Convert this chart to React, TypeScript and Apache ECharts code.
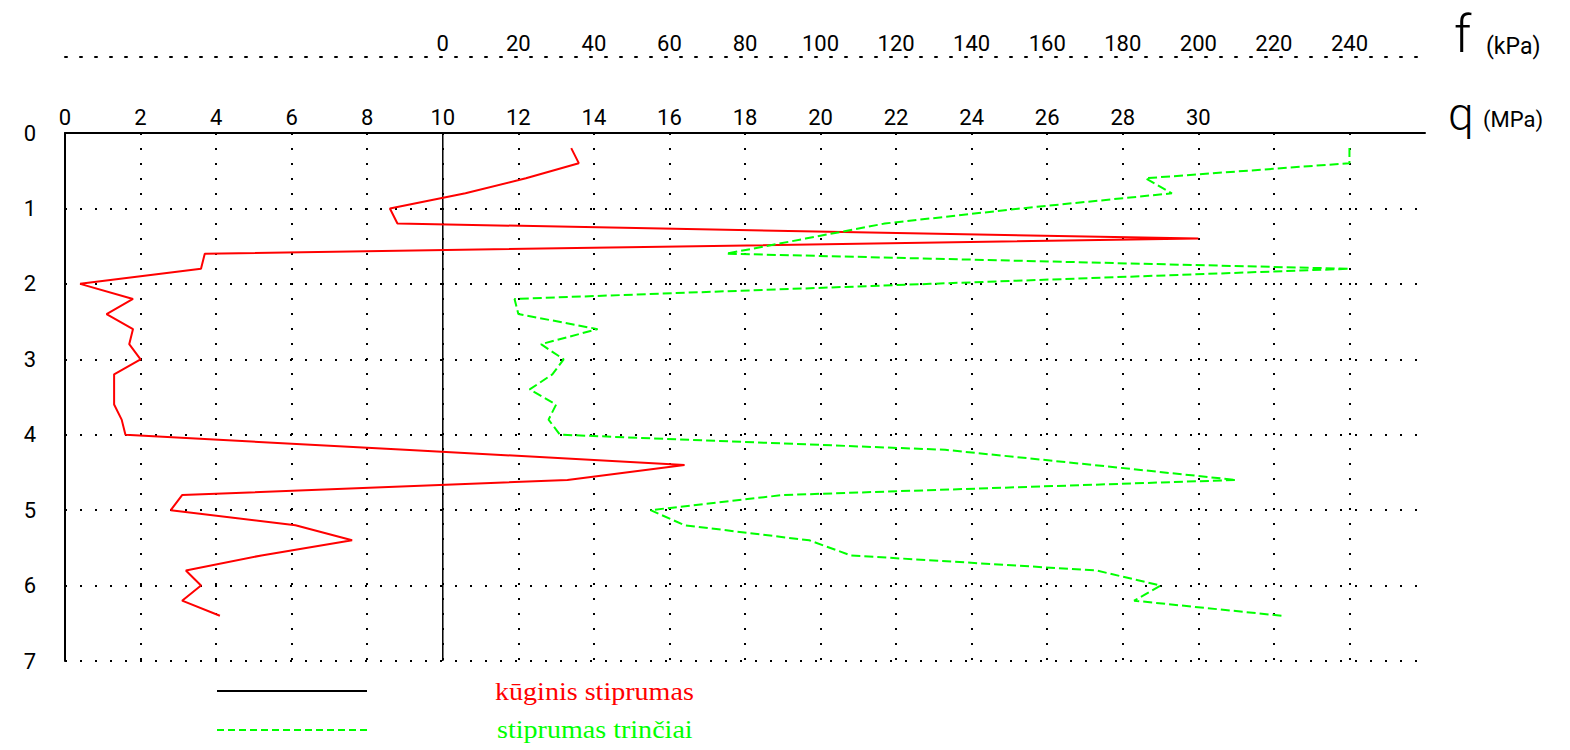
import React, { useEffect, useRef } from "react";
import * as echarts from "echarts";

// depth (m)
const depth = [0.2, 0.4, 0.6, 0.8, 1.0, 1.2, 1.4, 1.6, 1.8, 2.0, 2.2, 2.4, 2.6, 2.8, 3.0, 3.2, 3.4, 3.6, 3.8, 4.0, 4.2, 4.4, 4.6, 4.8, 5.0, 5.2, 5.4, 5.6, 5.8, 6.0, 6.2, 6.4];
// cone resistance q (MPa)
const qValues = [13.4, 13.6, 12.2, 10.6, 8.6, 8.8, 30, 3.7, 3.6, 0.4, 1.8, 1.1, 1.8, 1.7, 2.0, 1.3, 1.3, 1.3, 1.5, 1.6, 9.0, 16.4, 13.3, 3.1, 2.8, 6.1, 7.6, 5.2, 3.2, 3.6, 3.1, 4.1];
// sleeve friction f (kPa)
const fValues = [240, 240, 186, 193, 153, 117, 96, 75, 240, 129, 19, 20, 41, 26, 32, 29, 23, 30, 28, 31, 133, 172, 210, 90, 55, 64, 97, 108, 173, 190, 183, 222];
// reference line at q = 10 MPa
const refQ = [10, 10];
const refDepth = [0, 7];

const legendItems = ["kūginis stiprumas", "stiprumas trinčiai"];

const axisFont = "Roboto";

export default function App() {
  const ref = useRef<HTMLDivElement>(null);
  useEffect(() => {
    if (!ref.current) return;
    const chart = echarts.init(ref.current, null, { renderer: "svg" });
    const dotted = { color: "#000", width: 2, type: [2, 13] as number[] };
    chart.setOption({
      animation: false,
      backgroundColor: "#fff",
      grid: { left: 65, top: 133, width: 1360, height: 528, containLabel: false },
      xAxis: [
        {
          type: "value",
          position: "top",
          min: 0,
          max: 36,
          interval: 2,
          axisLine: { show: true, onZero: false, lineStyle: { color: "#000", width: 2 } },
          axisTick: { show: false },
          axisLabel: {
            color: "#000",
            fontFamily: axisFont,
            fontSize: 22,
            margin: 5,
            formatter: (v: number) => (v <= 30 ? String(v) : ""),
          },
          splitLine: { show: true, showMinLine: false, showMaxLine: false, lineStyle: dotted },
        },
        {
          type: "value",
          position: "top",
          offset: 76,
          min: -100,
          max: 260,
          interval: 20,
          axisLine: { show: true, onZero: false, lineStyle: dotted },
          axisTick: { show: false },
          axisLabel: {
            color: "#000",
            fontFamily: axisFont,
            fontSize: 22,
            margin: 3,
            formatter: (v: number) => (v >= 0 && v <= 240 ? String(v) : ""),
          },
          splitLine: { show: false },
        },
      ],
      yAxis: {
        type: "value",
        inverse: true,
        min: 0,
        max: 7,
        interval: 1,
        axisLine: { show: true, onZero: false, lineStyle: { color: "#000", width: 2 } },
        axisTick: { show: false },
        axisLabel: { color: "#000", fontFamily: axisFont, fontSize: 22, margin: 29 },
        splitLine: { show: true, showMinLine: false, showMaxLine: true, lineStyle: dotted },
      },
      series: [
        {
          type: "line",
          xAxisIndex: 0,
          yAxisIndex: 0,
          symbol: "none",
          data: refQ.map((q, i) => [q, refDepth[i]]),
          lineStyle: { color: "#000", width: 1.5 },
          silent: true,
        },
        {
          name: legendItems[0],
          type: "line",
          xAxisIndex: 0,
          yAxisIndex: 0,
          symbol: "none",
          data: depth.map((d, i) => [qValues[i], d]),
          lineStyle: { color: "#ff0000", width: 2 },
        },
        {
          name: legendItems[1],
          type: "line",
          xAxisIndex: 1,
          yAxisIndex: 0,
          symbol: "none",
          data: depth.map((d, i) => [fValues[i], d]),
          lineStyle: { color: "#00ff00", width: 2, type: [9, 4] },
        },
      ],
      graphic: [
        { type: "text", x: 1454, y: 34, style: { text: "f", font: "300 52px Roboto", fill: "#000", textVerticalAlign: "middle" } },
        { type: "text", x: 1486, y: 46, style: { text: "(kPa)", font: "23px Roboto", fill: "#000", textVerticalAlign: "middle" } },
        { type: "text", x: 1448, y: 114, style: { text: "q", font: "300 46px Roboto", fill: "#000", textVerticalAlign: "middle" } },
        { type: "text", x: 1483, y: 119, style: { text: "(MPa)", font: "22px Roboto", fill: "#000", textVerticalAlign: "middle" } },
        { type: "line", shape: { x1: 217, y1: 691, x2: 367, y2: 691 }, style: { stroke: "#000", lineWidth: 2 } },
        { type: "line", shape: { x1: 217, y1: 730, x2: 367, y2: 730 }, style: { stroke: "#00ff00", lineWidth: 2, lineDash: [7, 4] } },
        { type: "text", x: 495, y: 691, scaleX: 1.08, style: { text: legendItems[0], font: '26px "Liberation Serif"', fill: "#ff0000", textVerticalAlign: "middle" } },
        { type: "text", x: 497, y: 729, scaleX: 1.08, style: { text: legendItems[1], font: '26px "Liberation Serif"', fill: "#00ff00", textVerticalAlign: "middle" } },
      ],
    });
    return () => chart.dispose();
  }, []);
  return <div ref={ref} style={{ position: "fixed", left: 0, top: 0, width: 1570, height: 750 }} />;
}
